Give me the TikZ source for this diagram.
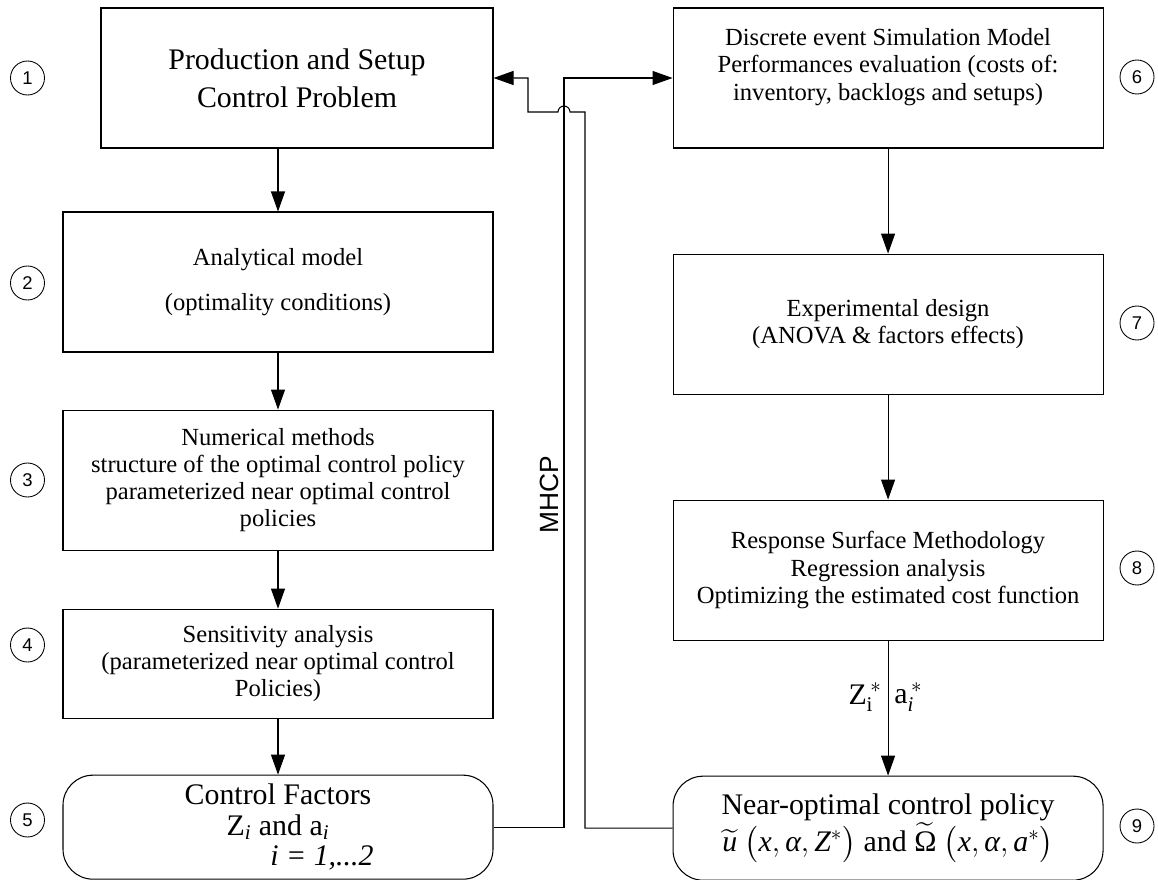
\documentclass[tikz,border=0pt]{standalone}
\usepackage{amsmath}
\usepackage{fontspec}
\setmainfont{Liberation Serif}
\newfontfamily\arialfont{Liberation Sans}
\usetikzlibrary{positioning,arrows.meta}

\begin{document}
\begin{tikzpicture}[
	box/.style={draw, line width=0.6pt, minimum width=8.6cm, minimum height=2.8cm, align=center, font=\fontsize{14}{15.5}\selectfont},
	endbox/.style={box, rounded corners=0.6cm, minimum height=2.08cm, font=\fontsize{17}{17.5}\selectfont},
	num/.style={circle, draw, line width=0.5pt, minimum size=0.68cm, inner sep=0pt, font=\arialfont\fontsize{10.5}{12}\selectfont},
	arr/.style={-{Triangle[length=0.4cm,width=0.28cm]}, line width=0.6pt}
]
	\useasboundingbox (0,0) rectangle (23.16,-17.58);

	\node[box, minimum width=7.84cm, font=\fontsize{17}{21.5}\selectfont] (B1) at (5.94,-1.56) {Production and Setup\\Control Problem};
	\node[box] (B2) at (5.56,-5.64) {Analytical model\\[0.36cm](optimality conditions)};
	\node[box, below=1.14cm of B2] (B3) {Numerical methods\\structure of the optimal control policy\\parameterized near optimal control\\policies};
	\node[box, minimum height=2.18cm, below=1.16cm of B3] (B4) {Sensitivity analysis\\(parameterized near optimal control\\Policies)};
	\node[endbox, below=1.12cm of B4] (B5) {Control Factors\\Z\textsubscript{\textit{i}} and a\textsubscript{\textit{i}}\hspace*{0.6cm}\\\hspace*{1.76cm}\textit{i = 1,...2}};

	\node[box, right=3.58cm of B1] (B6) {Discrete event Simulation Model\\Performances evaluation (costs of:\\inventory, backlogs and setups)\\~};
	\node[box, below=2.1cm of B6] (B7) {Experimental design\\(ANOVA \& factors effects)};
	\node[box, below=2.1cm of B7] (B8) {Response Surface Methodology\\Regression analysis\\Optimizing the estimated cost function};
	\node[endbox, font=\fontsize{17}{21}\selectfont, below=2.7cm of B8] (B9) {Near-optimal control policy\\$\widetilde{\textit{u}}\ \bigl(\textit{x},\textit{α},\textit{Z}^{*}\bigr)$ and $\widetilde{\text{Ω}}\ \bigl(\textit{x},\textit{α},\textit{a}^{*}\bigr)$};

	\foreach \n/\x/\y in {1/0.55/-1.56, 2/0.55/-5.66, 3/0.55/-9.6, 4/0.55/-12.9, 5/0.55/-16.4, 6/22.74/-1.54, 7/22.74/-6.46, 8/22.74/-11.36, 9/22.74/-16.52}
		\node[num] (c\n) at (\x,\y) {\n};

	\draw[arr] (B1.south -| B2.north) -- (B2.north);
	\draw[arr] (B2) -- (B3);
	\draw[arr] (B3) -- (B4);
	\draw[arr] (B4) -- (B5);
	\draw[arr] (B6) -- (B7);
	\draw[arr] (B7) -- (B8);
	\draw[arr] (B8) -- node[pos=0.42, left, font=\fontsize{17}{19}\selectfont] {$\text{Z}_{\text{i}}^{\,*}$} node[pos=0.42, right, font=\fontsize{17}{19}\selectfont] {$\text{a}_{\textit{i}}^{\,*}$} (B9);

	\coordinate (bus) at (11.28,-1.56);
	\coordinate (ret) at (11.70,-2.24);
	\coordinate (hop) at (11.28,-2.24);
	\coordinate (kink) at (10.56,-2.24);
	\draw[arr] (B5.east) -| (bus) -- (B6.west);
	\draw[arr] (B9.west) -| (ret) -- ([xshift=0.12cm]hop) arc[start angle=0, end angle=180, radius=0.12cm] -- (kink) |- (B1.east);

	\node[rotate=90, font=\arialfont\fontsize{15}{18}\selectfont] (mhcp) at (10.98,-9.9) {MHCP};
\end{tikzpicture}
\end{document}
